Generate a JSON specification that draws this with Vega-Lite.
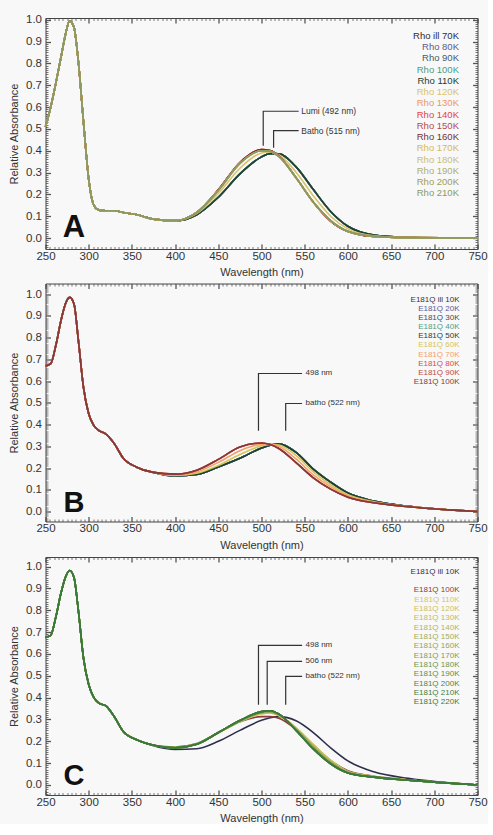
{
"$schema":"https://vega.github.io/schema/vega-lite/v6.json",
"background":"#f8f8f8",
"padding":{"left":8.5,"top":13,"right":0,"bottom":0},
"spacing":0.5,
"config":{"font":"Liberation Sans","view":{"stroke":null},
"axis":{"labelFont":"Liberation Sans","labelFontSize":11.5,"labelColor":"#333","titleFont":"Liberation Sans","titleFontSize":11,"titleFontWeight":"normal","titleColor":"#333","domainColor":"#444","tickColor":"#555","grid":false,"labelOverlap":false,"labelFlush":false},
"legend":{"labelFont":"Liberation Sans"}},
"resolve":{"scale":{"color":"independent"},"legend":{"color":"independent"}},
"datasets":{
"ann":[
{"p":"A","id":"l","o":0,"w":502,"a":0.423},{"p":"A","id":"l","o":1,"w":502,"a":0.581},{"p":"A","id":"l","o":2,"w":543,"a":0.581},
{"p":"A","id":"b","o":0,"w":514,"a":0.414},{"p":"A","id":"b","o":1,"w":514,"a":0.492},{"p":"A","id":"b","o":2,"w":543,"a":0.492},
{"p":"B","id":"l","o":0,"w":496.5,"a":0.371},{"p":"B","id":"l","o":1,"w":496.5,"a":0.635},{"p":"B","id":"l","o":2,"w":547,"a":0.635},
{"p":"B","id":"b","o":0,"w":528,"a":0.371},{"p":"B","id":"b","o":1,"w":528,"a":0.497},{"p":"B","id":"b","o":2,"w":547,"a":0.497},
{"p":"C","id":"l","o":0,"w":496.5,"a":0.367},{"p":"C","id":"l","o":1,"w":496.5,"a":0.639},{"p":"C","id":"l","o":2,"w":547,"a":0.639},
{"p":"C","id":"m","o":0,"w":506.6,"a":0.367},{"p":"C","id":"m","o":1,"w":506.6,"a":0.566},{"p":"C","id":"m","o":2,"w":547,"a":0.566},
{"p":"C","id":"b","o":0,"w":528,"a":0.367},{"p":"C","id":"b","o":1,"w":528,"a":0.497},{"p":"C","id":"b","o":2,"w":547,"a":0.497}],
"lab":[
{"p":"A","t":"Lumi (492 nm)","w":546,"a":0.581},{"p":"A","t":"Batho (515 nm)","w":546,"a":0.492},
{"p":"B","t":"498 nm","w":551,"a":0.635},{"p":"B","t":"batho (522 nm)","w":551,"a":0.497},
{"p":"C","t":"498 nm","w":551,"a":0.639},{"p":"C","t":"506 nm","w":551,"a":0.566},{"p":"C","t":"batho (522 nm)","w":551,"a":0.497}],
"A":[
{"T":70,"w":250,"a":0.51},{"T":70,"w":256,"a":0.6},{"T":70,"w":262,"a":0.71},{"T":70,"w":268,"a":0.83},{"T":70,"w":273,"a":0.93},{"T":70,"w":278,"a":0.995},{"T":70,"w":283,"a":0.965},{"T":70,"w":288,"a":0.81},{"T":70,"w":294,"a":0.53},{"T":70,"w":300,"a":0.27},{"T":70,"w":306,"a":0.15},{"T":70,"w":312,"a":0.128},{"T":70,"w":320,"a":0.125},{"T":70,"w":330,"a":0.125},{"T":70,"w":340,"a":0.117},{"T":70,"w":355,"a":0.108},{"T":70,"w":375,"a":0.087},{"T":70,"w":400,"a":0.079},{"T":70,"w":425,"a":0.107},{"T":70,"w":450,"a":0.187},{"T":70,"w":475,"a":0.294},{"T":70,"w":500,"a":0.372},{"T":70,"w":510,"a":0.387},{"T":70,"w":520,"a":0.386},{"T":70,"w":540,"a":0.326},{"T":70,"w":560,"a":0.222},{"T":70,"w":580,"a":0.122},{"T":70,"w":600,"a":0.054},{"T":70,"w":630,"a":0.014},{"T":70,"w":670,"a":0.003},{"T":70,"w":750,"a":0},
{"T":80,"w":250,"a":0.51},{"T":80,"w":256,"a":0.6},{"T":80,"w":262,"a":0.71},{"T":80,"w":268,"a":0.83},{"T":80,"w":273,"a":0.93},{"T":80,"w":278,"a":0.995},{"T":80,"w":283,"a":0.965},{"T":80,"w":288,"a":0.81},{"T":80,"w":294,"a":0.53},{"T":80,"w":300,"a":0.27},{"T":80,"w":306,"a":0.15},{"T":80,"w":312,"a":0.128},{"T":80,"w":320,"a":0.125},{"T":80,"w":330,"a":0.125},{"T":80,"w":340,"a":0.117},{"T":80,"w":355,"a":0.108},{"T":80,"w":375,"a":0.087},{"T":80,"w":400,"a":0.079},{"T":80,"w":425,"a":0.107},{"T":80,"w":450,"a":0.187},{"T":80,"w":475,"a":0.294},{"T":80,"w":500,"a":0.372},{"T":80,"w":510,"a":0.387},{"T":80,"w":520,"a":0.386},{"T":80,"w":540,"a":0.326},{"T":80,"w":560,"a":0.222},{"T":80,"w":580,"a":0.122},{"T":80,"w":600,"a":0.054},{"T":80,"w":630,"a":0.014},{"T":80,"w":670,"a":0.003},{"T":80,"w":750,"a":0},
{"T":90,"w":250,"a":0.51},{"T":90,"w":256,"a":0.6},{"T":90,"w":262,"a":0.71},{"T":90,"w":268,"a":0.83},{"T":90,"w":273,"a":0.93},{"T":90,"w":278,"a":0.995},{"T":90,"w":283,"a":0.965},{"T":90,"w":288,"a":0.81},{"T":90,"w":294,"a":0.53},{"T":90,"w":300,"a":0.27},{"T":90,"w":306,"a":0.15},{"T":90,"w":312,"a":0.128},{"T":90,"w":320,"a":0.125},{"T":90,"w":330,"a":0.125},{"T":90,"w":340,"a":0.117},{"T":90,"w":355,"a":0.108},{"T":90,"w":375,"a":0.087},{"T":90,"w":400,"a":0.079},{"T":90,"w":425,"a":0.107},{"T":90,"w":450,"a":0.187},{"T":90,"w":475,"a":0.294},{"T":90,"w":500,"a":0.372},{"T":90,"w":510,"a":0.387},{"T":90,"w":520,"a":0.386},{"T":90,"w":540,"a":0.326},{"T":90,"w":560,"a":0.222},{"T":90,"w":580,"a":0.122},{"T":90,"w":600,"a":0.054},{"T":90,"w":630,"a":0.014},{"T":90,"w":670,"a":0.003},{"T":90,"w":750,"a":0},
{"T":100,"w":250,"a":0.51},{"T":100,"w":256,"a":0.6},{"T":100,"w":262,"a":0.71},{"T":100,"w":268,"a":0.83},{"T":100,"w":273,"a":0.93},{"T":100,"w":278,"a":0.995},{"T":100,"w":283,"a":0.965},{"T":100,"w":288,"a":0.81},{"T":100,"w":294,"a":0.53},{"T":100,"w":300,"a":0.27},{"T":100,"w":306,"a":0.15},{"T":100,"w":312,"a":0.128},{"T":100,"w":320,"a":0.125},{"T":100,"w":330,"a":0.125},{"T":100,"w":340,"a":0.117},{"T":100,"w":355,"a":0.108},{"T":100,"w":375,"a":0.087},{"T":100,"w":400,"a":0.079},{"T":100,"w":425,"a":0.107},{"T":100,"w":450,"a":0.187},{"T":100,"w":475,"a":0.294},{"T":100,"w":500,"a":0.372},{"T":100,"w":510,"a":0.387},{"T":100,"w":520,"a":0.386},{"T":100,"w":540,"a":0.326},{"T":100,"w":560,"a":0.222},{"T":100,"w":580,"a":0.122},{"T":100,"w":600,"a":0.054},{"T":100,"w":630,"a":0.014},{"T":100,"w":670,"a":0.003},{"T":100,"w":750,"a":0},
{"T":110,"w":250,"a":0.51},{"T":110,"w":256,"a":0.6},{"T":110,"w":262,"a":0.71},{"T":110,"w":268,"a":0.83},{"T":110,"w":273,"a":0.93},{"T":110,"w":278,"a":0.995},{"T":110,"w":283,"a":0.965},{"T":110,"w":288,"a":0.81},{"T":110,"w":294,"a":0.53},{"T":110,"w":300,"a":0.27},{"T":110,"w":306,"a":0.15},{"T":110,"w":312,"a":0.128},{"T":110,"w":320,"a":0.125},{"T":110,"w":330,"a":0.125},{"T":110,"w":340,"a":0.117},{"T":110,"w":355,"a":0.108},{"T":110,"w":375,"a":0.087},{"T":110,"w":400,"a":0.079},{"T":110,"w":425,"a":0.107},{"T":110,"w":450,"a":0.187},{"T":110,"w":475,"a":0.294},{"T":110,"w":500,"a":0.372},{"T":110,"w":510,"a":0.387},{"T":110,"w":520,"a":0.386},{"T":110,"w":540,"a":0.326},{"T":110,"w":560,"a":0.222},{"T":110,"w":580,"a":0.122},{"T":110,"w":600,"a":0.054},{"T":110,"w":630,"a":0.014},{"T":110,"w":670,"a":0.003},{"T":110,"w":750,"a":0},
{"T":120,"w":250,"a":0.51},{"T":120,"w":256,"a":0.6},{"T":120,"w":262,"a":0.71},{"T":120,"w":268,"a":0.83},{"T":120,"w":273,"a":0.93},{"T":120,"w":278,"a":0.995},{"T":120,"w":283,"a":0.965},{"T":120,"w":288,"a":0.81},{"T":120,"w":294,"a":0.53},{"T":120,"w":300,"a":0.27},{"T":120,"w":306,"a":0.15},{"T":120,"w":312,"a":0.128},{"T":120,"w":320,"a":0.125},{"T":120,"w":330,"a":0.125},{"T":120,"w":340,"a":0.117},{"T":120,"w":355,"a":0.108},{"T":120,"w":375,"a":0.087},{"T":120,"w":400,"a":0.08},{"T":120,"w":425,"a":0.112},{"T":120,"w":450,"a":0.204},{"T":120,"w":475,"a":0.32},{"T":120,"w":500,"a":0.39},{"T":120,"w":510,"a":0.394},{"T":120,"w":520,"a":0.382},{"T":120,"w":540,"a":0.302},{"T":120,"w":560,"a":0.193},{"T":120,"w":580,"a":0.1},{"T":120,"w":600,"a":0.042},{"T":120,"w":630,"a":0.01},{"T":120,"w":670,"a":0.002},{"T":120,"w":750,"a":0},
{"T":130,"w":250,"a":0.51},{"T":130,"w":256,"a":0.6},{"T":130,"w":262,"a":0.71},{"T":130,"w":268,"a":0.83},{"T":130,"w":273,"a":0.93},{"T":130,"w":278,"a":0.995},{"T":130,"w":283,"a":0.965},{"T":130,"w":288,"a":0.81},{"T":130,"w":294,"a":0.53},{"T":130,"w":300,"a":0.27},{"T":130,"w":306,"a":0.15},{"T":130,"w":312,"a":0.128},{"T":130,"w":320,"a":0.125},{"T":130,"w":330,"a":0.125},{"T":130,"w":340,"a":0.117},{"T":130,"w":355,"a":0.108},{"T":130,"w":375,"a":0.087},{"T":130,"w":400,"a":0.08},{"T":130,"w":425,"a":0.118},{"T":130,"w":450,"a":0.221},{"T":130,"w":475,"a":0.346},{"T":130,"w":500,"a":0.405},{"T":130,"w":510,"a":0.401},{"T":130,"w":520,"a":0.377},{"T":130,"w":540,"a":0.277},{"T":130,"w":560,"a":0.164},{"T":130,"w":580,"a":0.078},{"T":130,"w":600,"a":0.03},{"T":130,"w":630,"a":0.007},{"T":130,"w":670,"a":0.002},{"T":130,"w":750,"a":0},
{"T":140,"w":250,"a":0.51},{"T":140,"w":256,"a":0.6},{"T":140,"w":262,"a":0.71},{"T":140,"w":268,"a":0.83},{"T":140,"w":273,"a":0.93},{"T":140,"w":278,"a":0.995},{"T":140,"w":283,"a":0.965},{"T":140,"w":288,"a":0.81},{"T":140,"w":294,"a":0.53},{"T":140,"w":300,"a":0.27},{"T":140,"w":306,"a":0.15},{"T":140,"w":312,"a":0.128},{"T":140,"w":320,"a":0.125},{"T":140,"w":330,"a":0.125},{"T":140,"w":340,"a":0.117},{"T":140,"w":355,"a":0.108},{"T":140,"w":375,"a":0.087},{"T":140,"w":400,"a":0.08},{"T":140,"w":425,"a":0.118},{"T":140,"w":450,"a":0.221},{"T":140,"w":475,"a":0.346},{"T":140,"w":500,"a":0.405},{"T":140,"w":510,"a":0.401},{"T":140,"w":520,"a":0.377},{"T":140,"w":540,"a":0.277},{"T":140,"w":560,"a":0.164},{"T":140,"w":580,"a":0.078},{"T":140,"w":600,"a":0.03},{"T":140,"w":630,"a":0.007},{"T":140,"w":670,"a":0.002},{"T":140,"w":750,"a":0},
{"T":150,"w":250,"a":0.51},{"T":150,"w":256,"a":0.6},{"T":150,"w":262,"a":0.71},{"T":150,"w":268,"a":0.83},{"T":150,"w":273,"a":0.93},{"T":150,"w":278,"a":0.995},{"T":150,"w":283,"a":0.965},{"T":150,"w":288,"a":0.81},{"T":150,"w":294,"a":0.53},{"T":150,"w":300,"a":0.27},{"T":150,"w":306,"a":0.15},{"T":150,"w":312,"a":0.128},{"T":150,"w":320,"a":0.125},{"T":150,"w":330,"a":0.125},{"T":150,"w":340,"a":0.117},{"T":150,"w":355,"a":0.108},{"T":150,"w":375,"a":0.087},{"T":150,"w":400,"a":0.08},{"T":150,"w":425,"a":0.118},{"T":150,"w":450,"a":0.221},{"T":150,"w":475,"a":0.346},{"T":150,"w":500,"a":0.405},{"T":150,"w":510,"a":0.401},{"T":150,"w":520,"a":0.377},{"T":150,"w":540,"a":0.277},{"T":150,"w":560,"a":0.164},{"T":150,"w":580,"a":0.078},{"T":150,"w":600,"a":0.03},{"T":150,"w":630,"a":0.007},{"T":150,"w":670,"a":0.002},{"T":150,"w":750,"a":0},
{"T":160,"w":250,"a":0.51},{"T":160,"w":256,"a":0.6},{"T":160,"w":262,"a":0.71},{"T":160,"w":268,"a":0.83},{"T":160,"w":273,"a":0.93},{"T":160,"w":278,"a":0.995},{"T":160,"w":283,"a":0.965},{"T":160,"w":288,"a":0.81},{"T":160,"w":294,"a":0.53},{"T":160,"w":300,"a":0.27},{"T":160,"w":306,"a":0.15},{"T":160,"w":312,"a":0.128},{"T":160,"w":320,"a":0.125},{"T":160,"w":330,"a":0.125},{"T":160,"w":340,"a":0.117},{"T":160,"w":355,"a":0.108},{"T":160,"w":375,"a":0.087},{"T":160,"w":400,"a":0.08},{"T":160,"w":425,"a":0.118},{"T":160,"w":450,"a":0.221},{"T":160,"w":475,"a":0.346},{"T":160,"w":500,"a":0.405},{"T":160,"w":510,"a":0.401},{"T":160,"w":520,"a":0.377},{"T":160,"w":540,"a":0.277},{"T":160,"w":560,"a":0.164},{"T":160,"w":580,"a":0.078},{"T":160,"w":600,"a":0.03},{"T":160,"w":630,"a":0.007},{"T":160,"w":670,"a":0.002},{"T":160,"w":750,"a":0},
{"T":170,"w":250,"a":0.51},{"T":170,"w":256,"a":0.6},{"T":170,"w":262,"a":0.71},{"T":170,"w":268,"a":0.83},{"T":170,"w":273,"a":0.93},{"T":170,"w":278,"a":0.995},{"T":170,"w":283,"a":0.965},{"T":170,"w":288,"a":0.81},{"T":170,"w":294,"a":0.53},{"T":170,"w":300,"a":0.27},{"T":170,"w":306,"a":0.15},{"T":170,"w":312,"a":0.128},{"T":170,"w":320,"a":0.125},{"T":170,"w":330,"a":0.125},{"T":170,"w":340,"a":0.117},{"T":170,"w":355,"a":0.108},{"T":170,"w":375,"a":0.087},{"T":170,"w":400,"a":0.08},{"T":170,"w":425,"a":0.117},{"T":170,"w":450,"a":0.218},{"T":170,"w":475,"a":0.342},{"T":170,"w":500,"a":0.4},{"T":170,"w":510,"a":0.397},{"T":170,"w":520,"a":0.374},{"T":170,"w":540,"a":0.276},{"T":170,"w":560,"a":0.165},{"T":170,"w":580,"a":0.08},{"T":170,"w":600,"a":0.031},{"T":170,"w":630,"a":0.008},{"T":170,"w":670,"a":0.002},{"T":170,"w":750,"a":0},
{"T":180,"w":250,"a":0.51},{"T":180,"w":256,"a":0.6},{"T":180,"w":262,"a":0.71},{"T":180,"w":268,"a":0.83},{"T":180,"w":273,"a":0.93},{"T":180,"w":278,"a":0.995},{"T":180,"w":283,"a":0.965},{"T":180,"w":288,"a":0.81},{"T":180,"w":294,"a":0.53},{"T":180,"w":300,"a":0.27},{"T":180,"w":306,"a":0.15},{"T":180,"w":312,"a":0.128},{"T":180,"w":320,"a":0.125},{"T":180,"w":330,"a":0.125},{"T":180,"w":340,"a":0.117},{"T":180,"w":355,"a":0.108},{"T":180,"w":375,"a":0.087},{"T":180,"w":400,"a":0.08},{"T":180,"w":425,"a":0.117},{"T":180,"w":450,"a":0.218},{"T":180,"w":475,"a":0.342},{"T":180,"w":500,"a":0.4},{"T":180,"w":510,"a":0.397},{"T":180,"w":520,"a":0.374},{"T":180,"w":540,"a":0.276},{"T":180,"w":560,"a":0.165},{"T":180,"w":580,"a":0.08},{"T":180,"w":600,"a":0.031},{"T":180,"w":630,"a":0.008},{"T":180,"w":670,"a":0.002},{"T":180,"w":750,"a":0},
{"T":190,"w":250,"a":0.51},{"T":190,"w":256,"a":0.6},{"T":190,"w":262,"a":0.71},{"T":190,"w":268,"a":0.83},{"T":190,"w":273,"a":0.93},{"T":190,"w":278,"a":0.995},{"T":190,"w":283,"a":0.965},{"T":190,"w":288,"a":0.81},{"T":190,"w":294,"a":0.53},{"T":190,"w":300,"a":0.27},{"T":190,"w":306,"a":0.15},{"T":190,"w":312,"a":0.128},{"T":190,"w":320,"a":0.125},{"T":190,"w":330,"a":0.125},{"T":190,"w":340,"a":0.117},{"T":190,"w":355,"a":0.108},{"T":190,"w":375,"a":0.087},{"T":190,"w":400,"a":0.08},{"T":190,"w":425,"a":0.117},{"T":190,"w":450,"a":0.218},{"T":190,"w":475,"a":0.342},{"T":190,"w":500,"a":0.4},{"T":190,"w":510,"a":0.397},{"T":190,"w":520,"a":0.374},{"T":190,"w":540,"a":0.276},{"T":190,"w":560,"a":0.165},{"T":190,"w":580,"a":0.08},{"T":190,"w":600,"a":0.031},{"T":190,"w":630,"a":0.008},{"T":190,"w":670,"a":0.002},{"T":190,"w":750,"a":0},
{"T":200,"w":250,"a":0.51},{"T":200,"w":256,"a":0.6},{"T":200,"w":262,"a":0.71},{"T":200,"w":268,"a":0.83},{"T":200,"w":273,"a":0.93},{"T":200,"w":278,"a":0.995},{"T":200,"w":283,"a":0.965},{"T":200,"w":288,"a":0.81},{"T":200,"w":294,"a":0.53},{"T":200,"w":300,"a":0.27},{"T":200,"w":306,"a":0.15},{"T":200,"w":312,"a":0.128},{"T":200,"w":320,"a":0.125},{"T":200,"w":330,"a":0.125},{"T":200,"w":340,"a":0.117},{"T":200,"w":355,"a":0.108},{"T":200,"w":375,"a":0.087},{"T":200,"w":400,"a":0.08},{"T":200,"w":425,"a":0.117},{"T":200,"w":450,"a":0.218},{"T":200,"w":475,"a":0.342},{"T":200,"w":500,"a":0.4},{"T":200,"w":510,"a":0.397},{"T":200,"w":520,"a":0.374},{"T":200,"w":540,"a":0.276},{"T":200,"w":560,"a":0.165},{"T":200,"w":580,"a":0.08},{"T":200,"w":600,"a":0.031},{"T":200,"w":630,"a":0.008},{"T":200,"w":670,"a":0.002},{"T":200,"w":750,"a":0},
{"T":210,"w":250,"a":0.51},{"T":210,"w":256,"a":0.6},{"T":210,"w":262,"a":0.71},{"T":210,"w":268,"a":0.83},{"T":210,"w":273,"a":0.93},{"T":210,"w":278,"a":0.995},{"T":210,"w":283,"a":0.965},{"T":210,"w":288,"a":0.81},{"T":210,"w":294,"a":0.53},{"T":210,"w":300,"a":0.27},{"T":210,"w":306,"a":0.15},{"T":210,"w":312,"a":0.128},{"T":210,"w":320,"a":0.125},{"T":210,"w":330,"a":0.125},{"T":210,"w":340,"a":0.117},{"T":210,"w":355,"a":0.108},{"T":210,"w":375,"a":0.087},{"T":210,"w":400,"a":0.08},{"T":210,"w":425,"a":0.117},{"T":210,"w":450,"a":0.218},{"T":210,"w":475,"a":0.342},{"T":210,"w":500,"a":0.4},{"T":210,"w":510,"a":0.397},{"T":210,"w":520,"a":0.374},{"T":210,"w":540,"a":0.276},{"T":210,"w":560,"a":0.165},{"T":210,"w":580,"a":0.08},{"T":210,"w":600,"a":0.031},{"T":210,"w":630,"a":0.008},{"T":210,"w":670,"a":0.002},{"T":210,"w":750,"a":0}],
"B":[
{"T":10,"w":250,"a":0.67},{"T":10,"w":256,"a":0.68},{"T":10,"w":262,"a":0.765},{"T":10,"w":268,"a":0.88},{"T":10,"w":273,"a":0.955},{"T":10,"w":278,"a":0.985},{"T":10,"w":283,"a":0.955},{"T":10,"w":288,"a":0.79},{"T":10,"w":294,"a":0.57},{"T":10,"w":300,"a":0.45},{"T":10,"w":306,"a":0.395},{"T":10,"w":312,"a":0.372},{"T":10,"w":320,"a":0.356},{"T":10,"w":330,"a":0.31},{"T":10,"w":340,"a":0.245},{"T":10,"w":355,"a":0.205},{"T":10,"w":375,"a":0.18},{"T":10,"w":400,"a":0.164},{"T":10,"w":425,"a":0.17},{"T":10,"w":450,"a":0.205},{"T":10,"w":475,"a":0.245},{"T":10,"w":500,"a":0.292},{"T":10,"w":510,"a":0.305},{"T":10,"w":520,"a":0.311},{"T":10,"w":540,"a":0.272},{"T":10,"w":560,"a":0.195},{"T":10,"w":580,"a":0.135},{"T":10,"w":600,"a":0.085},{"T":10,"w":630,"a":0.048},{"T":10,"w":670,"a":0.024},{"T":10,"w":750,"a":0},
{"T":20,"w":250,"a":0.67},{"T":20,"w":256,"a":0.68},{"T":20,"w":262,"a":0.765},{"T":20,"w":268,"a":0.88},{"T":20,"w":273,"a":0.955},{"T":20,"w":278,"a":0.985},{"T":20,"w":283,"a":0.955},{"T":20,"w":288,"a":0.79},{"T":20,"w":294,"a":0.57},{"T":20,"w":300,"a":0.45},{"T":20,"w":306,"a":0.395},{"T":20,"w":312,"a":0.372},{"T":20,"w":320,"a":0.356},{"T":20,"w":330,"a":0.31},{"T":20,"w":340,"a":0.245},{"T":20,"w":355,"a":0.205},{"T":20,"w":375,"a":0.18},{"T":20,"w":400,"a":0.164},{"T":20,"w":425,"a":0.17},{"T":20,"w":450,"a":0.205},{"T":20,"w":475,"a":0.245},{"T":20,"w":500,"a":0.292},{"T":20,"w":510,"a":0.305},{"T":20,"w":520,"a":0.311},{"T":20,"w":540,"a":0.272},{"T":20,"w":560,"a":0.195},{"T":20,"w":580,"a":0.135},{"T":20,"w":600,"a":0.085},{"T":20,"w":630,"a":0.048},{"T":20,"w":670,"a":0.024},{"T":20,"w":750,"a":0},
{"T":30,"w":250,"a":0.67},{"T":30,"w":256,"a":0.68},{"T":30,"w":262,"a":0.765},{"T":30,"w":268,"a":0.88},{"T":30,"w":273,"a":0.955},{"T":30,"w":278,"a":0.985},{"T":30,"w":283,"a":0.955},{"T":30,"w":288,"a":0.79},{"T":30,"w":294,"a":0.57},{"T":30,"w":300,"a":0.45},{"T":30,"w":306,"a":0.395},{"T":30,"w":312,"a":0.372},{"T":30,"w":320,"a":0.356},{"T":30,"w":330,"a":0.31},{"T":30,"w":340,"a":0.245},{"T":30,"w":355,"a":0.205},{"T":30,"w":375,"a":0.18},{"T":30,"w":400,"a":0.164},{"T":30,"w":425,"a":0.17},{"T":30,"w":450,"a":0.205},{"T":30,"w":475,"a":0.245},{"T":30,"w":500,"a":0.292},{"T":30,"w":510,"a":0.305},{"T":30,"w":520,"a":0.311},{"T":30,"w":540,"a":0.272},{"T":30,"w":560,"a":0.195},{"T":30,"w":580,"a":0.135},{"T":30,"w":600,"a":0.085},{"T":30,"w":630,"a":0.048},{"T":30,"w":670,"a":0.024},{"T":30,"w":750,"a":0},
{"T":40,"w":250,"a":0.67},{"T":40,"w":256,"a":0.68},{"T":40,"w":262,"a":0.765},{"T":40,"w":268,"a":0.88},{"T":40,"w":273,"a":0.955},{"T":40,"w":278,"a":0.985},{"T":40,"w":283,"a":0.955},{"T":40,"w":288,"a":0.79},{"T":40,"w":294,"a":0.57},{"T":40,"w":300,"a":0.45},{"T":40,"w":306,"a":0.395},{"T":40,"w":312,"a":0.372},{"T":40,"w":320,"a":0.356},{"T":40,"w":330,"a":0.31},{"T":40,"w":340,"a":0.245},{"T":40,"w":355,"a":0.205},{"T":40,"w":375,"a":0.18},{"T":40,"w":400,"a":0.164},{"T":40,"w":425,"a":0.17},{"T":40,"w":450,"a":0.205},{"T":40,"w":475,"a":0.245},{"T":40,"w":500,"a":0.292},{"T":40,"w":510,"a":0.305},{"T":40,"w":520,"a":0.311},{"T":40,"w":540,"a":0.272},{"T":40,"w":560,"a":0.195},{"T":40,"w":580,"a":0.135},{"T":40,"w":600,"a":0.085},{"T":40,"w":630,"a":0.048},{"T":40,"w":670,"a":0.024},{"T":40,"w":750,"a":0},
{"T":50,"w":250,"a":0.67},{"T":50,"w":256,"a":0.68},{"T":50,"w":262,"a":0.765},{"T":50,"w":268,"a":0.88},{"T":50,"w":273,"a":0.955},{"T":50,"w":278,"a":0.985},{"T":50,"w":283,"a":0.955},{"T":50,"w":288,"a":0.79},{"T":50,"w":294,"a":0.57},{"T":50,"w":300,"a":0.45},{"T":50,"w":306,"a":0.395},{"T":50,"w":312,"a":0.372},{"T":50,"w":320,"a":0.356},{"T":50,"w":330,"a":0.31},{"T":50,"w":340,"a":0.245},{"T":50,"w":355,"a":0.205},{"T":50,"w":375,"a":0.18},{"T":50,"w":400,"a":0.164},{"T":50,"w":425,"a":0.17},{"T":50,"w":450,"a":0.205},{"T":50,"w":475,"a":0.245},{"T":50,"w":500,"a":0.292},{"T":50,"w":510,"a":0.305},{"T":50,"w":520,"a":0.311},{"T":50,"w":540,"a":0.272},{"T":50,"w":560,"a":0.195},{"T":50,"w":580,"a":0.135},{"T":50,"w":600,"a":0.085},{"T":50,"w":630,"a":0.048},{"T":50,"w":670,"a":0.024},{"T":50,"w":750,"a":0},
{"T":60,"w":250,"a":0.67},{"T":60,"w":256,"a":0.68},{"T":60,"w":262,"a":0.765},{"T":60,"w":268,"a":0.88},{"T":60,"w":273,"a":0.955},{"T":60,"w":278,"a":0.985},{"T":60,"w":283,"a":0.955},{"T":60,"w":288,"a":0.79},{"T":60,"w":294,"a":0.57},{"T":60,"w":300,"a":0.45},{"T":60,"w":306,"a":0.395},{"T":60,"w":312,"a":0.372},{"T":60,"w":320,"a":0.356},{"T":60,"w":330,"a":0.31},{"T":60,"w":340,"a":0.245},{"T":60,"w":355,"a":0.205},{"T":60,"w":375,"a":0.18},{"T":60,"w":400,"a":0.166},{"T":60,"w":425,"a":0.176},{"T":60,"w":450,"a":0.212},{"T":60,"w":475,"a":0.262},{"T":60,"w":500,"a":0.302},{"T":60,"w":510,"a":0.309},{"T":60,"w":520,"a":0.306},{"T":60,"w":540,"a":0.258},{"T":60,"w":560,"a":0.182},{"T":60,"w":580,"a":0.123},{"T":60,"w":600,"a":0.077},{"T":60,"w":630,"a":0.045},{"T":60,"w":670,"a":0.023},{"T":60,"w":750,"a":0},
{"T":70,"w":250,"a":0.67},{"T":70,"w":256,"a":0.68},{"T":70,"w":262,"a":0.765},{"T":70,"w":268,"a":0.88},{"T":70,"w":273,"a":0.955},{"T":70,"w":278,"a":0.985},{"T":70,"w":283,"a":0.955},{"T":70,"w":288,"a":0.79},{"T":70,"w":294,"a":0.57},{"T":70,"w":300,"a":0.45},{"T":70,"w":306,"a":0.395},{"T":70,"w":312,"a":0.372},{"T":70,"w":320,"a":0.356},{"T":70,"w":330,"a":0.31},{"T":70,"w":340,"a":0.245},{"T":70,"w":355,"a":0.205},{"T":70,"w":375,"a":0.18},{"T":70,"w":400,"a":0.168},{"T":70,"w":425,"a":0.182},{"T":70,"w":450,"a":0.226},{"T":70,"w":475,"a":0.28},{"T":70,"w":500,"a":0.309},{"T":70,"w":510,"a":0.31},{"T":70,"w":520,"a":0.3},{"T":70,"w":540,"a":0.242},{"T":70,"w":560,"a":0.168},{"T":70,"w":580,"a":0.113},{"T":70,"w":600,"a":0.071},{"T":70,"w":630,"a":0.042},{"T":70,"w":670,"a":0.023},{"T":70,"w":750,"a":0},
{"T":80,"w":250,"a":0.67},{"T":80,"w":256,"a":0.68},{"T":80,"w":262,"a":0.765},{"T":80,"w":268,"a":0.88},{"T":80,"w":273,"a":0.955},{"T":80,"w":278,"a":0.985},{"T":80,"w":283,"a":0.955},{"T":80,"w":288,"a":0.79},{"T":80,"w":294,"a":0.57},{"T":80,"w":300,"a":0.45},{"T":80,"w":306,"a":0.395},{"T":80,"w":312,"a":0.372},{"T":80,"w":320,"a":0.356},{"T":80,"w":330,"a":0.31},{"T":80,"w":340,"a":0.245},{"T":80,"w":355,"a":0.205},{"T":80,"w":375,"a":0.18},{"T":80,"w":400,"a":0.172},{"T":80,"w":425,"a":0.19},{"T":80,"w":450,"a":0.24},{"T":80,"w":475,"a":0.297},{"T":80,"w":500,"a":0.315},{"T":80,"w":510,"a":0.308},{"T":80,"w":520,"a":0.29},{"T":80,"w":540,"a":0.225},{"T":80,"w":560,"a":0.155},{"T":80,"w":580,"a":0.103},{"T":80,"w":600,"a":0.066},{"T":80,"w":630,"a":0.04},{"T":80,"w":670,"a":0.022},{"T":80,"w":750,"a":0},
{"T":90,"w":250,"a":0.67},{"T":90,"w":256,"a":0.68},{"T":90,"w":262,"a":0.765},{"T":90,"w":268,"a":0.88},{"T":90,"w":273,"a":0.955},{"T":90,"w":278,"a":0.985},{"T":90,"w":283,"a":0.955},{"T":90,"w":288,"a":0.79},{"T":90,"w":294,"a":0.57},{"T":90,"w":300,"a":0.45},{"T":90,"w":306,"a":0.395},{"T":90,"w":312,"a":0.372},{"T":90,"w":320,"a":0.356},{"T":90,"w":330,"a":0.31},{"T":90,"w":340,"a":0.245},{"T":90,"w":355,"a":0.205},{"T":90,"w":375,"a":0.18},{"T":90,"w":400,"a":0.172},{"T":90,"w":425,"a":0.19},{"T":90,"w":450,"a":0.24},{"T":90,"w":475,"a":0.297},{"T":90,"w":500,"a":0.315},{"T":90,"w":510,"a":0.308},{"T":90,"w":520,"a":0.29},{"T":90,"w":540,"a":0.225},{"T":90,"w":560,"a":0.155},{"T":90,"w":580,"a":0.103},{"T":90,"w":600,"a":0.066},{"T":90,"w":630,"a":0.04},{"T":90,"w":670,"a":0.022},{"T":90,"w":750,"a":0},
{"T":100,"w":250,"a":0.67},{"T":100,"w":256,"a":0.68},{"T":100,"w":262,"a":0.765},{"T":100,"w":268,"a":0.88},{"T":100,"w":273,"a":0.955},{"T":100,"w":278,"a":0.985},{"T":100,"w":283,"a":0.955},{"T":100,"w":288,"a":0.79},{"T":100,"w":294,"a":0.57},{"T":100,"w":300,"a":0.45},{"T":100,"w":306,"a":0.395},{"T":100,"w":312,"a":0.372},{"T":100,"w":320,"a":0.356},{"T":100,"w":330,"a":0.31},{"T":100,"w":340,"a":0.245},{"T":100,"w":355,"a":0.205},{"T":100,"w":375,"a":0.18},{"T":100,"w":400,"a":0.172},{"T":100,"w":425,"a":0.19},{"T":100,"w":450,"a":0.24},{"T":100,"w":475,"a":0.297},{"T":100,"w":500,"a":0.315},{"T":100,"w":510,"a":0.308},{"T":100,"w":520,"a":0.29},{"T":100,"w":540,"a":0.225},{"T":100,"w":560,"a":0.155},{"T":100,"w":580,"a":0.103},{"T":100,"w":600,"a":0.066},{"T":100,"w":630,"a":0.04},{"T":100,"w":670,"a":0.022},{"T":100,"w":750,"a":0}],
"C":[
{"T":10,"w":250,"a":0.676},{"T":10,"w":256,"a":0.685},{"T":10,"w":262,"a":0.77},{"T":10,"w":268,"a":0.88},{"T":10,"w":273,"a":0.95},{"T":10,"w":278,"a":0.982},{"T":10,"w":283,"a":0.95},{"T":10,"w":288,"a":0.8},{"T":10,"w":294,"a":0.58},{"T":10,"w":300,"a":0.46},{"T":10,"w":306,"a":0.4},{"T":10,"w":312,"a":0.375},{"T":10,"w":320,"a":0.362},{"T":10,"w":330,"a":0.31},{"T":10,"w":340,"a":0.245},{"T":10,"w":355,"a":0.208},{"T":10,"w":375,"a":0.18},{"T":10,"w":400,"a":0.163},{"T":10,"w":425,"a":0.166},{"T":10,"w":450,"a":0.2},{"T":10,"w":475,"a":0.25},{"T":10,"w":500,"a":0.296},{"T":10,"w":510,"a":0.308},{"T":10,"w":520,"a":0.313},{"T":10,"w":540,"a":0.294},{"T":10,"w":560,"a":0.24},{"T":10,"w":580,"a":0.17},{"T":10,"w":600,"a":0.11},{"T":10,"w":630,"a":0.06},{"T":10,"w":670,"a":0.03},{"T":10,"w":750,"a":0},
{"T":100,"w":250,"a":0.676},{"T":100,"w":256,"a":0.685},{"T":100,"w":262,"a":0.77},{"T":100,"w":268,"a":0.88},{"T":100,"w":273,"a":0.95},{"T":100,"w":278,"a":0.982},{"T":100,"w":283,"a":0.95},{"T":100,"w":288,"a":0.8},{"T":100,"w":294,"a":0.58},{"T":100,"w":300,"a":0.46},{"T":100,"w":306,"a":0.4},{"T":100,"w":312,"a":0.375},{"T":100,"w":320,"a":0.362},{"T":100,"w":330,"a":0.31},{"T":100,"w":340,"a":0.245},{"T":100,"w":355,"a":0.208},{"T":100,"w":375,"a":0.182},{"T":100,"w":400,"a":0.174},{"T":100,"w":425,"a":0.19},{"T":100,"w":450,"a":0.24},{"T":100,"w":475,"a":0.29},{"T":100,"w":500,"a":0.313},{"T":100,"w":510,"a":0.313},{"T":100,"w":520,"a":0.306},{"T":100,"w":540,"a":0.255},{"T":100,"w":560,"a":0.182},{"T":100,"w":580,"a":0.113},{"T":100,"w":600,"a":0.065},{"T":100,"w":630,"a":0.04},{"T":100,"w":670,"a":0.024},{"T":100,"w":750,"a":0},
{"T":110,"w":250,"a":0.676},{"T":110,"w":256,"a":0.685},{"T":110,"w":262,"a":0.77},{"T":110,"w":268,"a":0.88},{"T":110,"w":273,"a":0.95},{"T":110,"w":278,"a":0.982},{"T":110,"w":283,"a":0.95},{"T":110,"w":288,"a":0.8},{"T":110,"w":294,"a":0.58},{"T":110,"w":300,"a":0.46},{"T":110,"w":306,"a":0.4},{"T":110,"w":312,"a":0.375},{"T":110,"w":320,"a":0.362},{"T":110,"w":330,"a":0.31},{"T":110,"w":340,"a":0.245},{"T":110,"w":355,"a":0.208},{"T":110,"w":375,"a":0.182},{"T":110,"w":400,"a":0.172},{"T":110,"w":425,"a":0.188},{"T":110,"w":450,"a":0.238},{"T":110,"w":475,"a":0.29},{"T":110,"w":500,"a":0.326},{"T":110,"w":510,"a":0.33},{"T":110,"w":520,"a":0.318},{"T":110,"w":540,"a":0.262},{"T":110,"w":560,"a":0.185},{"T":110,"w":580,"a":0.113},{"T":110,"w":600,"a":0.062},{"T":110,"w":630,"a":0.039},{"T":110,"w":670,"a":0.023},{"T":110,"w":750,"a":0},
{"T":120,"w":250,"a":0.676},{"T":120,"w":256,"a":0.685},{"T":120,"w":262,"a":0.77},{"T":120,"w":268,"a":0.88},{"T":120,"w":273,"a":0.95},{"T":120,"w":278,"a":0.982},{"T":120,"w":283,"a":0.95},{"T":120,"w":288,"a":0.8},{"T":120,"w":294,"a":0.58},{"T":120,"w":300,"a":0.46},{"T":120,"w":306,"a":0.4},{"T":120,"w":312,"a":0.375},{"T":120,"w":320,"a":0.362},{"T":120,"w":330,"a":0.31},{"T":120,"w":340,"a":0.245},{"T":120,"w":355,"a":0.208},{"T":120,"w":375,"a":0.182},{"T":120,"w":400,"a":0.172},{"T":120,"w":425,"a":0.188},{"T":120,"w":450,"a":0.238},{"T":120,"w":475,"a":0.29},{"T":120,"w":500,"a":0.326},{"T":120,"w":510,"a":0.33},{"T":120,"w":520,"a":0.318},{"T":120,"w":540,"a":0.262},{"T":120,"w":560,"a":0.185},{"T":120,"w":580,"a":0.113},{"T":120,"w":600,"a":0.062},{"T":120,"w":630,"a":0.039},{"T":120,"w":670,"a":0.023},{"T":120,"w":750,"a":0},
{"T":130,"w":250,"a":0.676},{"T":130,"w":256,"a":0.685},{"T":130,"w":262,"a":0.77},{"T":130,"w":268,"a":0.88},{"T":130,"w":273,"a":0.95},{"T":130,"w":278,"a":0.982},{"T":130,"w":283,"a":0.95},{"T":130,"w":288,"a":0.8},{"T":130,"w":294,"a":0.58},{"T":130,"w":300,"a":0.46},{"T":130,"w":306,"a":0.4},{"T":130,"w":312,"a":0.375},{"T":130,"w":320,"a":0.362},{"T":130,"w":330,"a":0.31},{"T":130,"w":340,"a":0.245},{"T":130,"w":355,"a":0.208},{"T":130,"w":375,"a":0.182},{"T":130,"w":400,"a":0.171},{"T":130,"w":425,"a":0.187},{"T":130,"w":450,"a":0.239},{"T":130,"w":475,"a":0.292},{"T":130,"w":500,"a":0.331},{"T":130,"w":510,"a":0.334},{"T":130,"w":520,"a":0.322},{"T":130,"w":540,"a":0.256},{"T":130,"w":560,"a":0.175},{"T":130,"w":580,"a":0.105},{"T":130,"w":600,"a":0.058},{"T":130,"w":630,"a":0.037},{"T":130,"w":670,"a":0.022},{"T":130,"w":750,"a":0},
{"T":140,"w":250,"a":0.676},{"T":140,"w":256,"a":0.685},{"T":140,"w":262,"a":0.77},{"T":140,"w":268,"a":0.88},{"T":140,"w":273,"a":0.95},{"T":140,"w":278,"a":0.982},{"T":140,"w":283,"a":0.95},{"T":140,"w":288,"a":0.8},{"T":140,"w":294,"a":0.58},{"T":140,"w":300,"a":0.46},{"T":140,"w":306,"a":0.4},{"T":140,"w":312,"a":0.375},{"T":140,"w":320,"a":0.362},{"T":140,"w":330,"a":0.31},{"T":140,"w":340,"a":0.245},{"T":140,"w":355,"a":0.208},{"T":140,"w":375,"a":0.182},{"T":140,"w":400,"a":0.171},{"T":140,"w":425,"a":0.187},{"T":140,"w":450,"a":0.239},{"T":140,"w":475,"a":0.292},{"T":140,"w":500,"a":0.331},{"T":140,"w":510,"a":0.334},{"T":140,"w":520,"a":0.322},{"T":140,"w":540,"a":0.256},{"T":140,"w":560,"a":0.175},{"T":140,"w":580,"a":0.105},{"T":140,"w":600,"a":0.058},{"T":140,"w":630,"a":0.037},{"T":140,"w":670,"a":0.022},{"T":140,"w":750,"a":0},
{"T":150,"w":250,"a":0.676},{"T":150,"w":256,"a":0.685},{"T":150,"w":262,"a":0.77},{"T":150,"w":268,"a":0.88},{"T":150,"w":273,"a":0.95},{"T":150,"w":278,"a":0.982},{"T":150,"w":283,"a":0.95},{"T":150,"w":288,"a":0.8},{"T":150,"w":294,"a":0.58},{"T":150,"w":300,"a":0.46},{"T":150,"w":306,"a":0.4},{"T":150,"w":312,"a":0.375},{"T":150,"w":320,"a":0.362},{"T":150,"w":330,"a":0.31},{"T":150,"w":340,"a":0.245},{"T":150,"w":355,"a":0.208},{"T":150,"w":375,"a":0.182},{"T":150,"w":400,"a":0.171},{"T":150,"w":425,"a":0.187},{"T":150,"w":450,"a":0.239},{"T":150,"w":475,"a":0.292},{"T":150,"w":500,"a":0.331},{"T":150,"w":510,"a":0.334},{"T":150,"w":520,"a":0.322},{"T":150,"w":540,"a":0.256},{"T":150,"w":560,"a":0.175},{"T":150,"w":580,"a":0.105},{"T":150,"w":600,"a":0.058},{"T":150,"w":630,"a":0.037},{"T":150,"w":670,"a":0.022},{"T":150,"w":750,"a":0},
{"T":160,"w":250,"a":0.676},{"T":160,"w":256,"a":0.685},{"T":160,"w":262,"a":0.77},{"T":160,"w":268,"a":0.88},{"T":160,"w":273,"a":0.95},{"T":160,"w":278,"a":0.982},{"T":160,"w":283,"a":0.95},{"T":160,"w":288,"a":0.8},{"T":160,"w":294,"a":0.58},{"T":160,"w":300,"a":0.46},{"T":160,"w":306,"a":0.4},{"T":160,"w":312,"a":0.375},{"T":160,"w":320,"a":0.362},{"T":160,"w":330,"a":0.31},{"T":160,"w":340,"a":0.245},{"T":160,"w":355,"a":0.208},{"T":160,"w":375,"a":0.182},{"T":160,"w":400,"a":0.171},{"T":160,"w":425,"a":0.187},{"T":160,"w":450,"a":0.239},{"T":160,"w":475,"a":0.292},{"T":160,"w":500,"a":0.331},{"T":160,"w":510,"a":0.334},{"T":160,"w":520,"a":0.322},{"T":160,"w":540,"a":0.256},{"T":160,"w":560,"a":0.175},{"T":160,"w":580,"a":0.105},{"T":160,"w":600,"a":0.058},{"T":160,"w":630,"a":0.037},{"T":160,"w":670,"a":0.022},{"T":160,"w":750,"a":0},
{"T":170,"w":250,"a":0.676},{"T":170,"w":256,"a":0.685},{"T":170,"w":262,"a":0.77},{"T":170,"w":268,"a":0.88},{"T":170,"w":273,"a":0.95},{"T":170,"w":278,"a":0.982},{"T":170,"w":283,"a":0.95},{"T":170,"w":288,"a":0.8},{"T":170,"w":294,"a":0.58},{"T":170,"w":300,"a":0.46},{"T":170,"w":306,"a":0.4},{"T":170,"w":312,"a":0.375},{"T":170,"w":320,"a":0.362},{"T":170,"w":330,"a":0.31},{"T":170,"w":340,"a":0.245},{"T":170,"w":355,"a":0.208},{"T":170,"w":375,"a":0.182},{"T":170,"w":400,"a":0.17},{"T":170,"w":425,"a":0.186},{"T":170,"w":450,"a":0.24},{"T":170,"w":475,"a":0.295},{"T":170,"w":500,"a":0.336},{"T":170,"w":510,"a":0.34},{"T":170,"w":520,"a":0.325},{"T":170,"w":540,"a":0.25},{"T":170,"w":560,"a":0.165},{"T":170,"w":580,"a":0.097},{"T":170,"w":600,"a":0.055},{"T":170,"w":630,"a":0.036},{"T":170,"w":670,"a":0.022},{"T":170,"w":750,"a":0},
{"T":180,"w":250,"a":0.676},{"T":180,"w":256,"a":0.685},{"T":180,"w":262,"a":0.77},{"T":180,"w":268,"a":0.88},{"T":180,"w":273,"a":0.95},{"T":180,"w":278,"a":0.982},{"T":180,"w":283,"a":0.95},{"T":180,"w":288,"a":0.8},{"T":180,"w":294,"a":0.58},{"T":180,"w":300,"a":0.46},{"T":180,"w":306,"a":0.4},{"T":180,"w":312,"a":0.375},{"T":180,"w":320,"a":0.362},{"T":180,"w":330,"a":0.31},{"T":180,"w":340,"a":0.245},{"T":180,"w":355,"a":0.208},{"T":180,"w":375,"a":0.182},{"T":180,"w":400,"a":0.17},{"T":180,"w":425,"a":0.186},{"T":180,"w":450,"a":0.24},{"T":180,"w":475,"a":0.295},{"T":180,"w":500,"a":0.336},{"T":180,"w":510,"a":0.34},{"T":180,"w":520,"a":0.325},{"T":180,"w":540,"a":0.25},{"T":180,"w":560,"a":0.165},{"T":180,"w":580,"a":0.097},{"T":180,"w":600,"a":0.055},{"T":180,"w":630,"a":0.036},{"T":180,"w":670,"a":0.022},{"T":180,"w":750,"a":0},
{"T":190,"w":250,"a":0.676},{"T":190,"w":256,"a":0.685},{"T":190,"w":262,"a":0.77},{"T":190,"w":268,"a":0.88},{"T":190,"w":273,"a":0.95},{"T":190,"w":278,"a":0.982},{"T":190,"w":283,"a":0.95},{"T":190,"w":288,"a":0.8},{"T":190,"w":294,"a":0.58},{"T":190,"w":300,"a":0.46},{"T":190,"w":306,"a":0.4},{"T":190,"w":312,"a":0.375},{"T":190,"w":320,"a":0.362},{"T":190,"w":330,"a":0.31},{"T":190,"w":340,"a":0.245},{"T":190,"w":355,"a":0.208},{"T":190,"w":375,"a":0.182},{"T":190,"w":400,"a":0.17},{"T":190,"w":425,"a":0.186},{"T":190,"w":450,"a":0.24},{"T":190,"w":475,"a":0.295},{"T":190,"w":500,"a":0.336},{"T":190,"w":510,"a":0.34},{"T":190,"w":520,"a":0.325},{"T":190,"w":540,"a":0.25},{"T":190,"w":560,"a":0.165},{"T":190,"w":580,"a":0.097},{"T":190,"w":600,"a":0.055},{"T":190,"w":630,"a":0.036},{"T":190,"w":670,"a":0.022},{"T":190,"w":750,"a":0},
{"T":200,"w":250,"a":0.676},{"T":200,"w":256,"a":0.685},{"T":200,"w":262,"a":0.77},{"T":200,"w":268,"a":0.88},{"T":200,"w":273,"a":0.95},{"T":200,"w":278,"a":0.982},{"T":200,"w":283,"a":0.95},{"T":200,"w":288,"a":0.8},{"T":200,"w":294,"a":0.58},{"T":200,"w":300,"a":0.46},{"T":200,"w":306,"a":0.4},{"T":200,"w":312,"a":0.375},{"T":200,"w":320,"a":0.362},{"T":200,"w":330,"a":0.31},{"T":200,"w":340,"a":0.245},{"T":200,"w":355,"a":0.208},{"T":200,"w":375,"a":0.182},{"T":200,"w":400,"a":0.17},{"T":200,"w":425,"a":0.186},{"T":200,"w":450,"a":0.24},{"T":200,"w":475,"a":0.295},{"T":200,"w":500,"a":0.336},{"T":200,"w":510,"a":0.34},{"T":200,"w":520,"a":0.325},{"T":200,"w":540,"a":0.25},{"T":200,"w":560,"a":0.165},{"T":200,"w":580,"a":0.097},{"T":200,"w":600,"a":0.055},{"T":200,"w":630,"a":0.036},{"T":200,"w":670,"a":0.022},{"T":200,"w":750,"a":0},
{"T":210,"w":250,"a":0.676},{"T":210,"w":256,"a":0.685},{"T":210,"w":262,"a":0.77},{"T":210,"w":268,"a":0.88},{"T":210,"w":273,"a":0.95},{"T":210,"w":278,"a":0.982},{"T":210,"w":283,"a":0.95},{"T":210,"w":288,"a":0.8},{"T":210,"w":294,"a":0.58},{"T":210,"w":300,"a":0.46},{"T":210,"w":306,"a":0.4},{"T":210,"w":312,"a":0.375},{"T":210,"w":320,"a":0.362},{"T":210,"w":330,"a":0.31},{"T":210,"w":340,"a":0.245},{"T":210,"w":355,"a":0.208},{"T":210,"w":375,"a":0.182},{"T":210,"w":400,"a":0.17},{"T":210,"w":425,"a":0.186},{"T":210,"w":450,"a":0.24},{"T":210,"w":475,"a":0.295},{"T":210,"w":500,"a":0.336},{"T":210,"w":510,"a":0.34},{"T":210,"w":520,"a":0.325},{"T":210,"w":540,"a":0.25},{"T":210,"w":560,"a":0.165},{"T":210,"w":580,"a":0.097},{"T":210,"w":600,"a":0.055},{"T":210,"w":630,"a":0.036},{"T":210,"w":670,"a":0.022},{"T":210,"w":750,"a":0},
{"T":220,"w":250,"a":0.676},{"T":220,"w":256,"a":0.685},{"T":220,"w":262,"a":0.77},{"T":220,"w":268,"a":0.88},{"T":220,"w":273,"a":0.95},{"T":220,"w":278,"a":0.982},{"T":220,"w":283,"a":0.95},{"T":220,"w":288,"a":0.8},{"T":220,"w":294,"a":0.58},{"T":220,"w":300,"a":0.46},{"T":220,"w":306,"a":0.4},{"T":220,"w":312,"a":0.375},{"T":220,"w":320,"a":0.362},{"T":220,"w":330,"a":0.31},{"T":220,"w":340,"a":0.245},{"T":220,"w":355,"a":0.208},{"T":220,"w":375,"a":0.182},{"T":220,"w":400,"a":0.17},{"T":220,"w":425,"a":0.186},{"T":220,"w":450,"a":0.24},{"T":220,"w":475,"a":0.295},{"T":220,"w":500,"a":0.336},{"T":220,"w":510,"a":0.34},{"T":220,"w":520,"a":0.325},{"T":220,"w":540,"a":0.25},{"T":220,"w":560,"a":0.165},{"T":220,"w":580,"a":0.097},{"T":220,"w":600,"a":0.055},{"T":220,"w":630,"a":0.036},{"T":220,"w":670,"a":0.022},{"T":220,"w":750,"a":0}]
},
"vconcat":[
{"name":"pA","width":432,"height":231,
"resolve":{"axis":{"x":"independent","y":"independent"}},
"layer":[
{"data":{"name":"A"},"mark":{"type":"line","interpolate":"monotone","strokeWidth":1.6},
"encoding":{
"x":{"field":"w","type":"quantitative","scale":{"domain":[250,750],"nice":false,"zero":false},"axis":{"orient":"bottom","title":"Wavelength (nm)","tickCount":100,"labelExpr":"datum.value % 50 == 0 ? datum.label : ''","tickSize":{"condition":{"test":"datum.value % 50 == 0","value":-5},"value":-2.5},"tickWidth":{"condition":{"test":"datum.value % 50 == 0","value":1.3},"value":0.8},"labelPadding":6.3,"titlePadding":2.3}},
"y":{"field":"a","type":"quantitative","scale":{"domain":[-0.05,1.008],"nice":false,"zero":false},"axis":{"orient":"left","title":"Relative Absorbance","tickCount":110,"labelExpr":"abs(datum.value*10 - round(datum.value*10)) < 0.001 ? format(datum.value, '.1f') : ''","tickSize":{"condition":{"test":"abs(datum.value*10 - round(datum.value*10)) < 0.001","value":-5},"value":-2.5},"tickWidth":{"condition":{"test":"abs(datum.value*10 - round(datum.value*10)) < 0.001","value":1.3},"value":0.8},"labelPadding":9,"titlePadding":6}},
"color":{"field":"T","type":"nominal","scale":{"domain":[70,80,90,100,110,120,130,140,150,160,170,180,190,200,210],"range":["#2b2b3b","#5c5a8e","#4b5868","#4e9c84","#22402f","#d9c36a","#f2955a","#e5443e","#b84a48","#7a2e30","#d6b95a","#c9bd78","#b0ad72","#9e9d58","#8a9a62"]},
"legend":{"orient":"none","legendX":404,"legendY":13,"title":null,"symbolSize":0,"symbolStrokeWidth":0,"symbolOpacity":0,"labelFontSize":9.5,"labelAlign":"right","labelOffset":0,"rowPadding":0.25,"labelLimit":0,"labelExpr":"datum.value == 70 ? 'Rho ill 70K' : 'Rho ' + datum.label + 'K'","encode":{"labels":{"update":{"fill":{"scale":"pA_color","field":"value"}}}}}}}},
{"data":{"name":"ann"},"transform":[{"filter":"datum.p == 'A'"}],"mark":{"type":"line","color":"#333","strokeWidth":1.2},"encoding":{"x":{"field":"w","type":"quantitative","axis":null},"y":{"field":"a","type":"quantitative","axis":null},"detail":{"field":"id"},"order":{"field":"o"}}},
{"data":{"name":"lab"},"transform":[{"filter":"datum.p == 'A'"}],"mark":{"type":"text","align":"left","baseline":"middle","fontSize":8.5,"color":"#333"},"encoding":{"x":{"field":"w","type":"quantitative","axis":null},"y":{"field":"a","type":"quantitative","axis":null},"text":{"field":"t"}}},
{"data":{"values":[{}]},"mark":{"type":"text","text":"A","fontSize":31,"fontWeight":"bold","color":"#111","align":"center","baseline":"alphabetic"},"encoding":{"x":{"datum":283,"axis":null},"y":{"datum":0.003,"axis":null}}},
{"data":{"name":"lab"},"transform":[{"filter":"datum.p == 'A'"}],"mark":{"type":"point","opacity":0},"encoding":{
"x":{"field":"w","type":"quantitative","axis":{"orient":"top","title":null,"labels":false,"tickCount":100,"tickSize":{"condition":{"test":"datum.value % 50 == 0","value":-5},"value":-2.5},"tickWidth":{"condition":{"test":"datum.value % 50 == 0","value":1.3},"value":0.8}}},
"y":{"field":"a","type":"quantitative","axis":{"orient":"right","title":null,"labels":false,"tickCount":110,"tickSize":{"condition":{"test":"abs(datum.value*10 - round(datum.value*10)) < 0.001","value":-5},"value":-2.5},"tickWidth":{"condition":{"test":"abs(datum.value*10 - round(datum.value*10)) < 0.001","value":1.3},"value":0.8}}}}}
]},
{"name":"pB","width":432,"height":238,
"resolve":{"axis":{"x":"independent","y":"independent"}},
"layer":[
{"data":{"name":"B"},"mark":{"type":"line","interpolate":"monotone","strokeWidth":1.6},
"encoding":{
"x":{"field":"w","type":"quantitative","scale":{"domain":[250,750],"nice":false,"zero":false},"axis":{"orient":"bottom","title":"Wavelength (nm)","tickCount":100,"labelExpr":"datum.value % 50 == 0 ? datum.label : ''","tickSize":{"condition":{"test":"datum.value % 50 == 0","value":-5},"value":-2.5},"tickWidth":{"condition":{"test":"datum.value % 50 == 0","value":1.3},"value":0.8},"labelPadding":6.3,"titlePadding":2.3}},
"y":{"field":"a","type":"quantitative","scale":{"domain":[-0.046,1.049],"nice":false,"zero":false},"axis":{"orient":"left","title":"Relative Absorbance","tickCount":110,"labelExpr":"abs(datum.value*10 - round(datum.value*10)) < 0.001 ? format(datum.value, '.1f') : ''","tickSize":{"condition":{"test":"abs(datum.value*10 - round(datum.value*10)) < 0.001","value":-5},"value":-2.5},"tickWidth":{"condition":{"test":"abs(datum.value*10 - round(datum.value*10)) < 0.001","value":1.3},"value":0.8},"labelPadding":9,"titlePadding":6}},
"color":{"field":"T","type":"nominal","scale":{"domain":[10,20,30,40,50,60,70,80,90,100],"range":["#333340","#5a5a9a","#3d4b5a","#4e9c84","#1f3f30","#d4c45a","#f3a06a","#e5443e","#b84a48","#853a38"]},
"legend":{"orient":"none","legendX":406,"legendY":12,"title":null,"symbolSize":0,"symbolStrokeWidth":0,"symbolOpacity":0,"labelFontSize":8,"labelAlign":"right","labelOffset":0,"rowPadding":1.17,"labelLimit":0,"labelExpr":"datum.value == 10 ? 'E181Q ill 10K' : 'E181Q ' + datum.label + 'K'","encode":{"labels":{"update":{"fill":{"scale":"pB_color","field":"value"}}}}}}}},
{"data":{"name":"ann"},"transform":[{"filter":"datum.p == 'B'"}],"mark":{"type":"line","color":"#333","strokeWidth":1.2},"encoding":{"x":{"field":"w","type":"quantitative","axis":null},"y":{"field":"a","type":"quantitative","axis":null},"detail":{"field":"id"},"order":{"field":"o"}}},
{"data":{"name":"lab"},"transform":[{"filter":"datum.p == 'B'"}],"mark":{"type":"text","align":"left","baseline":"middle","fontSize":8,"color":"#333"},"encoding":{"x":{"field":"w","type":"quantitative","axis":null},"y":{"field":"a","type":"quantitative","axis":null},"text":{"field":"t"}}},
{"data":{"values":[{}]},"mark":{"type":"text","text":"B","fontSize":29,"fontWeight":"bold","color":"#111","align":"center","baseline":"alphabetic"},"encoding":{"x":{"datum":283,"axis":null},"y":{"datum":0.0,"axis":null}}},
{"data":{"name":"lab"},"transform":[{"filter":"datum.p == 'B'"}],"mark":{"type":"point","opacity":0},"encoding":{
"x":{"field":"w","type":"quantitative","axis":{"orient":"top","title":null,"labels":false,"tickCount":100,"tickSize":{"condition":{"test":"datum.value % 50 == 0","value":-5},"value":-2.5},"tickWidth":{"condition":{"test":"datum.value % 50 == 0","value":1.3},"value":0.8}}},
"y":{"field":"a","type":"quantitative","axis":{"orient":"right","title":null,"labels":false,"tickCount":110,"tickSize":{"condition":{"test":"abs(datum.value*10 - round(datum.value*10)) < 0.001","value":-5},"value":-2.5},"tickWidth":{"condition":{"test":"abs(datum.value*10 - round(datum.value*10)) < 0.001","value":1.3},"value":0.8}}}}}
]},
{"name":"pC","width":432,"height":238,
"resolve":{"axis":{"x":"independent","y":"independent"}},
"layer":[
{"data":{"name":"C"},"mark":{"type":"line","interpolate":"monotone","strokeWidth":1.6},
"encoding":{
"x":{"field":"w","type":"quantitative","scale":{"domain":[250,750],"nice":false,"zero":false},"axis":{"orient":"bottom","title":"Wavelength (nm)","tickCount":100,"labelExpr":"datum.value % 50 == 0 ? datum.label : ''","tickSize":{"condition":{"test":"datum.value % 50 == 0","value":-5},"value":-2.5},"tickWidth":{"condition":{"test":"datum.value % 50 == 0","value":1.3},"value":0.8},"labelPadding":6.3,"titlePadding":2.3}},
"y":{"field":"a","type":"quantitative","scale":{"domain":[-0.046,1.044],"nice":false,"zero":false},"axis":{"orient":"left","title":"Relative Absorbance","tickCount":110,"labelExpr":"abs(datum.value*10 - round(datum.value*10)) < 0.001 ? format(datum.value, '.1f') : ''","tickSize":{"condition":{"test":"abs(datum.value*10 - round(datum.value*10)) < 0.001","value":-5},"value":-2.5},"tickWidth":{"condition":{"test":"abs(datum.value*10 - round(datum.value*10)) < 0.001","value":1.3},"value":0.8},"labelPadding":9,"titlePadding":6}},
"color":{"field":"T","type":"nominal","scale":{"domain":[10,0,100,110,120,130,140,150,160,170,180,190,200,210,220],"range":["#2e2e4e","#f8f8f8","#8e3a3a","#d8c45a","#cdbf5e","#c0bb64","#b0b460","#a0ad5c","#90a656","#809e52","#6f964c","#5e8e48","#4f8644","#447e3e","#3a7a3a"]},
"legend":{"orient":"none","legendX":406,"legendY":10.7,"title":null,"symbolSize":0,"symbolStrokeWidth":0,"symbolOpacity":0,"labelFontSize":8,"labelAlign":"right","labelOffset":0,"rowPadding":1.32,"labelLimit":0,"labelExpr":"datum.value == 0 ? ' ' : datum.value == 10 ? 'E181Q ill 10K' : 'E181Q ' + datum.label + 'K'","encode":{"labels":{"update":{"fill":{"scale":"pC_color","field":"value"}}}}}}}},
{"data":{"name":"ann"},"transform":[{"filter":"datum.p == 'C'"}],"mark":{"type":"line","color":"#333","strokeWidth":1.2},"encoding":{"x":{"field":"w","type":"quantitative","axis":null},"y":{"field":"a","type":"quantitative","axis":null},"detail":{"field":"id"},"order":{"field":"o"}}},
{"data":{"name":"lab"},"transform":[{"filter":"datum.p == 'C'"}],"mark":{"type":"text","align":"left","baseline":"middle","fontSize":8,"color":"#333"},"encoding":{"x":{"field":"w","type":"quantitative","axis":null},"y":{"field":"a","type":"quantitative","axis":null},"text":{"field":"t"}}},
{"data":{"values":[{}]},"mark":{"type":"text","text":"C","fontSize":29,"fontWeight":"bold","color":"#111","align":"center","baseline":"alphabetic"},"encoding":{"x":{"datum":283,"axis":null},"y":{"datum":0.0,"axis":null}}},
{"data":{"name":"lab"},"transform":[{"filter":"datum.p == 'C'"}],"mark":{"type":"point","opacity":0},"encoding":{
"x":{"field":"w","type":"quantitative","axis":{"orient":"top","title":null,"labels":false,"tickCount":100,"tickSize":{"condition":{"test":"datum.value % 50 == 0","value":-5},"value":-2.5},"tickWidth":{"condition":{"test":"datum.value % 50 == 0","value":1.3},"value":0.8}}},
"y":{"field":"a","type":"quantitative","axis":{"orient":"right","title":null,"labels":false,"tickCount":110,"tickSize":{"condition":{"test":"abs(datum.value*10 - round(datum.value*10)) < 0.001","value":-5},"value":-2.5},"tickWidth":{"condition":{"test":"abs(datum.value*10 - round(datum.value*10)) < 0.001","value":1.3},"value":0.8}}}}}
]}
]
}
